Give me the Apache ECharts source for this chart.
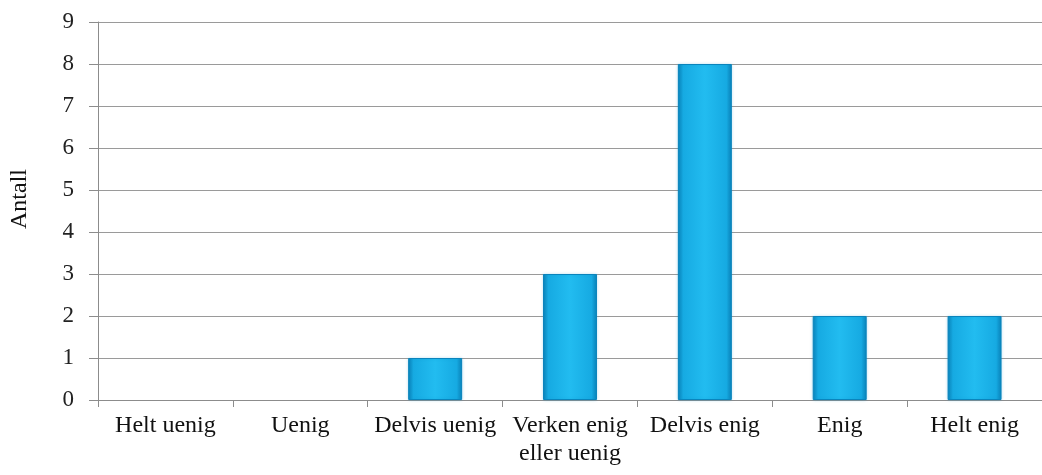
<!DOCTYPE html>
<html>
<head>
<meta charset="utf-8">
<script src="https://cdn.jsdelivr.net/npm/echarts@6/dist/echarts.min.js"></script>
<style>
  html, body { margin: 0; padding: 0; background: #fff; }
  #chart { width: 1042px; height: 475px; }
</style>
</head>
<body>
<div id="chart"></div>
<script>
// Response categories and counts
const categories = ['Helt uenig', 'Uenig', 'Delvis uenig', 'Verken enig\neller uenig', 'Delvis enig', 'Enig', 'Helt enig'];
const counts = [0, 0, 1, 3, 8, 2, 2];
const yTicks = [0, 1, 2, 3, 4, 5, 6, 7, 8, 9];
const yTitle = 'Antall';

const serif = '"Liberation Serif", "Times New Roman", serif';
const chart = echarts.init(document.getElementById('chart'));

// Bars shaded darker toward the sides
const barFill = new echarts.graphic.LinearGradient(0, 0, 1, 0, [
  { offset: 0, color: '#0a80b6' },
  { offset: 0.1, color: '#16aae2' },
  { offset: 0.5, color: '#22bcf0' },
  { offset: 0.9, color: '#16aae2' },
  { offset: 1, color: '#0a80b6' }
]);

// Zero counts get no visible outline
const barData = counts.map(v => ({
  value: v,
  itemStyle: v === 0 ? { borderWidth: 0, shadowBlur: 0, opacity: 0 } : {}
}));

chart.setOption({
  animation: false,
  grid: { left: 96, right: -6, top: 22, bottom: 75, containLabel: false },
  xAxis: {
    type: 'category',
    data: categories,
    axisLine: { lineStyle: { color: '#8c8c8c', width: 1 } },
    axisTick: { show: true, length: 7, alignWithLabel: false, lineStyle: { color: '#8c8c8c' } },
    axisLabel: {
      color: '#111', fontFamily: serif, fontSize: 24, margin: 12, lineHeight: 28, interval: 0
    }
  },
  yAxis: {
    type: 'value',
    min: yTicks[0],
    max: yTicks[yTicks.length - 1],
    interval: 1,
    name: yTitle,
    nameLocation: 'middle',
    nameGap: 66,
    nameRotate: 90,
    nameTextStyle: { color: '#111', fontFamily: serif, fontSize: 24, padding: [0, 0, 0, 24] },
    axisLine: { show: true, lineStyle: { color: '#8c8c8c', width: 1 } },
    axisTick: { show: true, length: 9, lineStyle: { color: '#8c8c8c' } },
    axisLabel: { color: '#222', fontFamily: serif, fontSize: 23, margin: 24 },
    splitLine: { lineStyle: { color: '#9a9a9a', width: 1 } }
  },
  series: [{
    type: 'bar',
    data: barData,
    barWidth: '40%',
    itemStyle: {
      color: barFill,
      borderColor: '#0a84bc',
      borderWidth: 1,
      shadowColor: 'rgba(0,150,210,0.35)',
      shadowBlur: 3
    }
  }]
});
</script>
</body>
</html>
